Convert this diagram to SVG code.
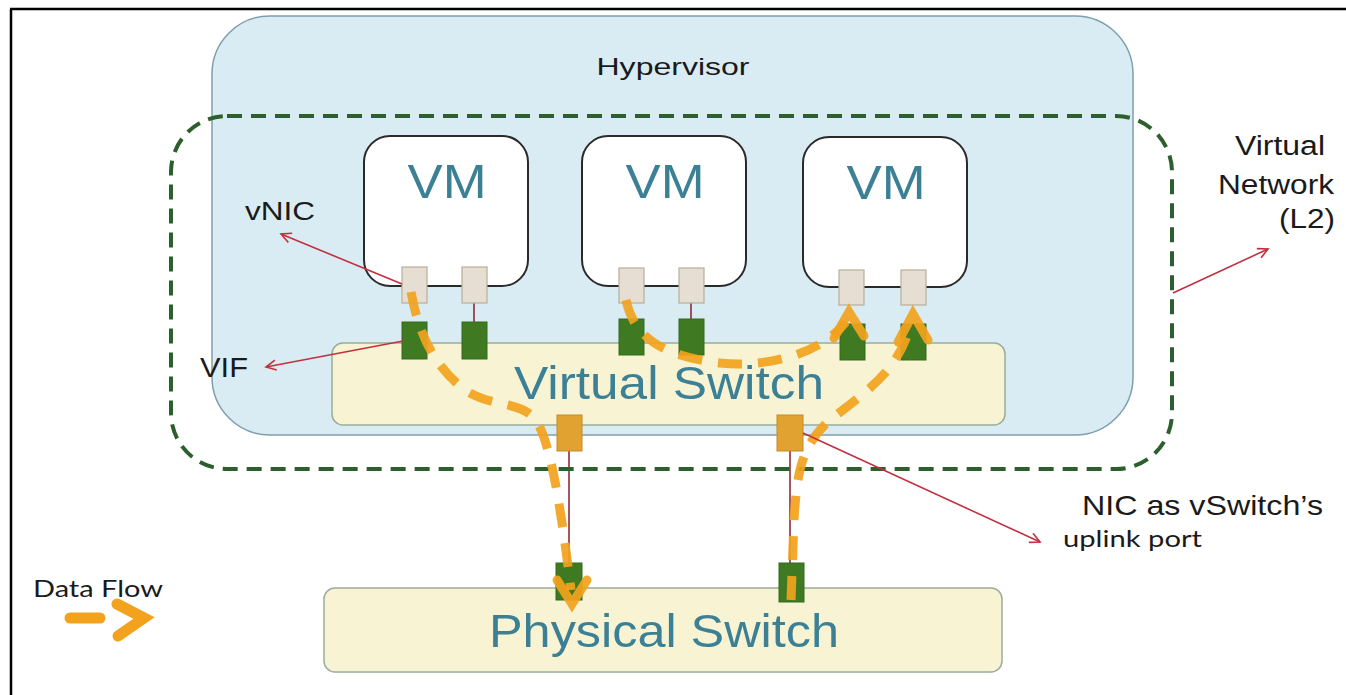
<svg xmlns="http://www.w3.org/2000/svg" width="1346" height="695" viewBox="0 0 1346 695">
<defs>
<style>
.lbl{font-family:"Liberation Sans",Arial,sans-serif;fill:#1a1a1a;}
.big{font-family:"Liberation Sans",Arial,sans-serif;fill:#3c8096;}
.gill{font-family:Lato,"Liberation Sans",sans-serif;fill:#1a1a1a;}
.vm{fill:#ffffff;stroke:#2a2a2a;stroke-width:2;}
.vnic{fill:#e6ded3;stroke:#b8ad98;stroke-width:1.2;}
.vif{fill:#3f7a22;stroke:#336a1c;stroke-width:1;}
.up{fill:#e2a232;stroke:#c48a20;stroke-width:1;}
.link{stroke:#8a1e2a;stroke-width:1.5;fill:none;}
.ann{stroke:#c23040;stroke-width:1.6;fill:none;marker-end:url(#ah);}
.flow{stroke:#f2a21c;stroke-width:9;fill:none;stroke-dasharray:24 16;stroke-linecap:butt;opacity:0.92;}
.head{stroke:#f2a21c;stroke-width:9;fill:none;stroke-linecap:round;stroke-linejoin:miter;opacity:0.92;}
</style>
<marker id="ah" markerWidth="14" markerHeight="14" refX="11" refY="6" orient="auto" markerUnits="userSpaceOnUse">
<path d="M1,1 L11,6 L1,11" fill="none" stroke="#c23040" stroke-width="1.6"/>
</marker>
</defs>
<rect x="0" y="0" width="1346" height="695" fill="#ffffff"/>
<g id="frame">
<line x1="10" y1="9" x2="1346" y2="9" stroke="#000" stroke-width="2.5"/>
<line x1="11" y1="9" x2="11" y2="695" stroke="#000" stroke-width="2.5"/>
</g>
<g id="hypervisor">
<rect x="212" y="16" width="921" height="419" rx="58" ry="58" fill="#d9ecf4" stroke="#7f9fae" stroke-width="1.5"/>
<text class="lbl" x="673" y="75" font-size="24" text-anchor="middle" textLength="153" lengthAdjust="spacingAndGlyphs">Hypervisor</text>
</g>
<g id="virtual-switch">
<rect x="332" y="343" width="673" height="82" rx="11" ry="11" fill="#f8f4d3" stroke="#9cac9c" stroke-width="1.5"/>
<text class="big" x="669" y="399" font-size="46" text-anchor="middle" textLength="310" lengthAdjust="spacingAndGlyphs">Virtual Switch</text>
</g>
<g id="vm1">
<rect class="vm" x="364" y="136" width="164" height="150" rx="26" ry="26"/>
<text class="big" x="447" y="198" font-size="48" text-anchor="middle" textLength="79" lengthAdjust="spacingAndGlyphs">VM</text>
</g>
<g id="vm2">
<rect class="vm" x="582" y="136" width="164" height="150" rx="26" ry="26"/>
<text class="big" x="665" y="198" font-size="48" text-anchor="middle" textLength="79" lengthAdjust="spacingAndGlyphs">VM</text>
</g>
<g id="vm3">
<rect class="vm" x="803" y="137" width="164" height="150" rx="26" ry="26"/>
<text class="big" x="886" y="199" font-size="48" text-anchor="middle" textLength="79" lengthAdjust="spacingAndGlyphs">VM</text>
</g>
<g id="physical-switch">
<rect x="324" y="588" width="678" height="84" rx="11" ry="11" fill="#f8f4d3" stroke="#9cac9c" stroke-width="1.5"/>
<text class="big" x="664" y="647" font-size="47" text-anchor="middle" textLength="350" lengthAdjust="spacingAndGlyphs">Physical Switch</text>
</g>
<g id="connectors">
<line class="link" x1="474" y1="303" x2="474" y2="322"/>
<line class="link" x1="691" y1="303" x2="691" y2="320"/>
<line class="link" x1="569" y1="450" x2="569" y2="565"/>
<line class="link" x1="790" y1="450" x2="790" y2="565"/>
</g>
<g id="ports">
<rect class="vnic" x="402" y="267" width="25" height="36"/>
<rect class="vnic" x="462" y="267" width="25" height="36"/>
<rect class="vnic" x="619" y="268" width="25" height="35"/>
<rect class="vnic" x="679" y="268" width="25" height="35"/>
<rect class="vnic" x="839" y="270" width="25" height="35"/>
<rect class="vnic" x="901" y="270" width="25" height="35"/>
<rect class="vif" x="402" y="322" width="25" height="37"/>
<rect class="vif" x="462" y="322" width="25" height="37"/>
<rect class="vif" x="619" y="319" width="25" height="36"/>
<rect class="vif" x="679" y="319" width="25" height="36"/>
<rect class="vif" x="840" y="324" width="25" height="36"/>
<rect class="vif" x="901" y="324" width="25" height="36"/>
<rect class="up" x="557" y="415" width="25" height="36"/>
<rect class="up" x="777" y="415" width="26" height="36"/>
<rect class="vif" x="556" y="563" width="26" height="37"/>
<rect class="vif" x="779" y="563" width="25" height="39"/>
</g>
<g id="network-boundary">
<rect x="171" y="116" width="1001" height="353" rx="56" ry="56" fill="none" stroke="#2c5f2c" stroke-width="4" stroke-dasharray="15 9"/>
</g>
<g id="data-flow">
<path class="flow" d="M411,292 C418,330 432,365 465,390 C492,408 520,400 536,420 C550,442 560,500 571,590"/>
<path class="head" d="M557,580 L572,604 L587,580"/>
<path class="flow" d="M626,300 C634,336 660,356 720,363 C772,368 822,352 846,322"/>
<path class="head" d="M834,338 L849,312 L864,336"/>
<path class="flow" d="M791,600 L794,520 C797,470 802,445 830,420 C868,390 900,370 911,322"/>
<path class="head" d="M898,342 L913,314 L928,340"/>
</g>
<g id="annotations">
<line class="ann" x1="402" y1="284" x2="281" y2="234"/>
<line class="ann" x1="403" y1="341" x2="266" y2="367"/>
<line class="ann" x1="1173" y1="293" x2="1268" y2="249"/>
<line class="ann" x1="803" y1="433" x2="1040" y2="542"/>
<text class="lbl" x="245" y="220" font-size="26" textLength="70" lengthAdjust="spacingAndGlyphs">vNIC</text>
<text class="lbl" x="200" y="377" font-size="27" textLength="48" lengthAdjust="spacingAndGlyphs">VIF</text>
<text class="lbl" x="1325" y="155" font-size="27" text-anchor="end" textLength="90" lengthAdjust="spacingAndGlyphs">Virtual</text>
<text class="lbl" x="1334" y="194" font-size="27" text-anchor="end" textLength="116" lengthAdjust="spacingAndGlyphs">Network</text>
<text class="lbl" x="1335" y="228" font-size="27" text-anchor="end" textLength="56" lengthAdjust="spacingAndGlyphs">(L2)</text>
<text class="lbl" x="1082" y="515" font-size="28" textLength="241" lengthAdjust="spacingAndGlyphs">NIC as vSwitch’s</text>
<text class="gill" x="1063" y="547" font-size="23" textLength="139" lengthAdjust="spacingAndGlyphs">uplink port</text>
</g>
<g id="legend">
<text class="gill" x="33" y="597" font-size="24" textLength="130" lengthAdjust="spacingAndGlyphs">Data Flow</text>
<line x1="70" y1="618" x2="100" y2="618" stroke="#f2a21c" stroke-width="11" stroke-linecap="round"/>
<path d="M117,604 L144,618 L118,636" fill="none" stroke="#f2a21c" stroke-width="11" stroke-linecap="round" stroke-linejoin="miter"/>
</g>
</svg>
